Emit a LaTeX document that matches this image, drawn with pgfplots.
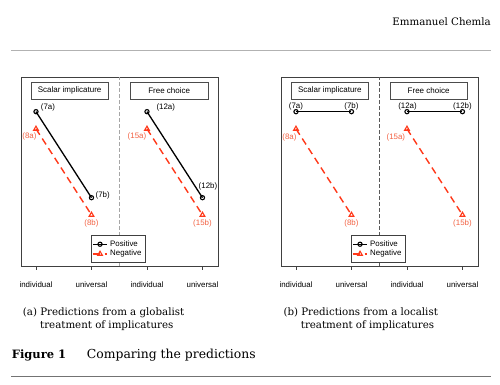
\documentclass[border=0pt]{standalone}
\usepackage{fontspec}
\setmainfont{DejaVu Serif}
\newfontfamily\plotfont{Liberation Sans}
\usepackage{pgfplots}
\pgfplotsset{compat=1.18}
\definecolor{negcol}{rgb}{1,0.22,0.1}
\definecolor{neglab}{rgb}{0.95,0.38,0.26}
\newcommand\pf{\plotfont\fontsize{7.9}{9}\selectfont}
\tikzset{
  lab/.style={font=\pf, inner sep=0pt},
  tbox/.style={draw=black!70, line width=0.6pt, minimum width=77.6pt, minimum height=16.7pt, inner sep=0pt, font=\plotfont\fontsize{8}{9}\selectfont},
}
\pgfplotsset{chemla/.style={
  anchor=south west, scale only axis, width=197pt, height=189pt,
  xmin=0.73, xmax=4.28, ymin=-0.794, ymax=1.403,
  xtick={1,2,3,4}, xticklabels={individual,universal,individual,universal},
  ytick=\empty, xtick pos=left, tick align=outside, major tick length=4pt,
  axis line style={black!75, line width=0.6pt},
  tick style={black!75, line width=0.6pt},
  xticklabel style={font=\pf, anchor=base, yshift=-18pt},
  clip=false,
  legend cell align=left,
  legend image code/.code={\draw[mark repeat=2,mark phase=2,##1] plot coordinates {(0pt,0pt)(7pt,0pt)(14pt,0pt)};},
  legend style={font=\pf, draw=black!75, inner xsep=1.5pt, inner ysep=4pt, row sep=0.5pt,
    nodes={inner ysep=1pt, inner xsep=2.5pt, text height=5.6pt, text depth=1.6pt},
    at={(axis cs:2.48,-0.756)}, anchor=south},
  posline/.style={black, line width=1.3pt, mark=o, mark size=2.1pt, mark options={solid, line width=1.1pt, fill=white}},
  negline/.style={negcol, line width=1.4pt, dash pattern=on 7pt off 4.5pt, mark=triangle, mark size=2.7pt, mark options={solid, line width=1.1pt, fill=white}},
}}
\begin{document}
\begin{tikzpicture}
\path[use as bounding box] (0,0) rectangle (500pt,385pt);
\node[anchor=base east, font=\fontsize{10.25}{12}\selectfont, inner sep=0pt] at (491pt,359.5pt) {Emmanuel Chemla};
\draw[black!30, line width=0.9pt] (11pt,334.3pt) -- (491pt,334.3pt);

\begin{axis}[chemla, at={(21pt,119pt)}]
\addplot[posline] coordinates {(1,1) (2,0)};
\addplot[negline] coordinates {(1,0.8) (2,-0.2)};
\addplot[posline, forget plot] coordinates {(3,1) (4,0)};
\addplot[negline, forget plot] coordinates {(3,0.8) (4,-0.2)};
\legend{Positive,Negative}
\draw[black!35, line width=0.9pt, dash pattern=on 3.5pt off 2.5pt] (axis cs:2.5,-0.794) -- (axis cs:2.5,1.403);
\node[tbox] at (axis cs:1.606,1.244) {Scalar implicature};
\node[tbox] at (axis cs:3.40,1.244) {Free choice};
\node[lab, anchor=west, xshift=4.7pt, yshift=4pt] at (axis cs:1,1) {(7a)};
\node[lab, anchor=west, xshift=4pt, yshift=2pt] at (axis cs:2,0) {(7b)};
\node[lab, text=neglab, anchor=east, xshift=0.7pt, yshift=-7.7pt] at (axis cs:1,0.8) {(8a)};
\node[lab, text=neglab, yshift=-9pt] at (axis cs:2,-0.2) {(8b)};
\node[lab, anchor=west, xshift=9.4pt, yshift=4pt] at (axis cs:3,1) {(12a)};
\node[lab, xshift=5.5pt, yshift=11pt] at (axis cs:4,0) {(12b)};
\node[lab, text=neglab, anchor=east, xshift=-0.6pt, yshift=-7.7pt] at (axis cs:3,0.8) {(15a)};
\node[lab, text=neglab, yshift=-9pt] at (axis cs:4,-0.2) {(15b)};
\end{axis}

\begin{axis}[chemla, at={(281pt,119pt)}]
\addplot[posline] coordinates {(1,1) (2,1)};
\addplot[negline] coordinates {(1,0.8) (2,-0.2)};
\addplot[posline, forget plot] coordinates {(3,1) (4,1)};
\addplot[negline, forget plot] coordinates {(3,0.8) (4,-0.2)};
\legend{Positive,Negative}
\draw[black!65, line width=0.6pt, dash pattern=on 3.5pt off 2.5pt] (axis cs:2.5,-0.794) -- (axis cs:2.5,1.403);
\node[tbox] at (axis cs:1.61,1.244) {Scalar implicature};
\node[tbox] at (axis cs:3.39,1.244) {Free choice};
\node[lab, yshift=5.7pt] at (axis cs:1,1) {(7a)};
\node[lab, yshift=5.7pt] at (axis cs:2,1) {(7b)};
\node[lab, xshift=0.5pt, yshift=5.7pt] at (axis cs:3,1) {(12a)};
\node[lab, yshift=5.7pt] at (axis cs:4,1) {(12b)};
\node[lab, text=neglab, anchor=east, xshift=0.7pt, yshift=-8.7pt] at (axis cs:1,0.8) {(8a)};
\node[lab, text=neglab, yshift=-9pt] at (axis cs:2,-0.2) {(8b)};
\node[lab, text=neglab, anchor=east, xshift=-1.7pt, yshift=-8.7pt] at (axis cs:3,0.8) {(15a)};
\node[lab, text=neglab, yshift=-9pt] at (axis cs:4,-0.2) {(15b)};
\end{axis}

\node[anchor=base west, inner sep=0pt, font=\fontsize{10.25}{12}\selectfont] at (22.7pt,69.3pt) {(a) Predictions from a globalist};
\node[anchor=base west, inner sep=0pt, font=\fontsize{10.25}{12}\selectfont] at (40pt,56.5pt) {treatment of implicatures};
\node[anchor=base west, inner sep=0pt, font=\fontsize{10.25}{12}\selectfont] at (283.3pt,69.3pt) {(b) Predictions from a localist};
\node[anchor=base west, inner sep=0pt, font=\fontsize{10.25}{12}\selectfont] at (300.7pt,56.5pt) {treatment of implicatures};
\node[anchor=base west, inner sep=0pt, font=\bfseries\fontsize{11.5}{13}\selectfont] at (11.7pt,26pt) {Figure 1};
\node[anchor=base west, inner sep=0pt, font=\fontsize{12.4}{14}\selectfont] at (86.7pt,26pt) {Comparing the predictions};
\draw[black!55, line width=0.9pt] (11pt,9pt) -- (491pt,9pt);
\end{tikzpicture}
\end{document}
